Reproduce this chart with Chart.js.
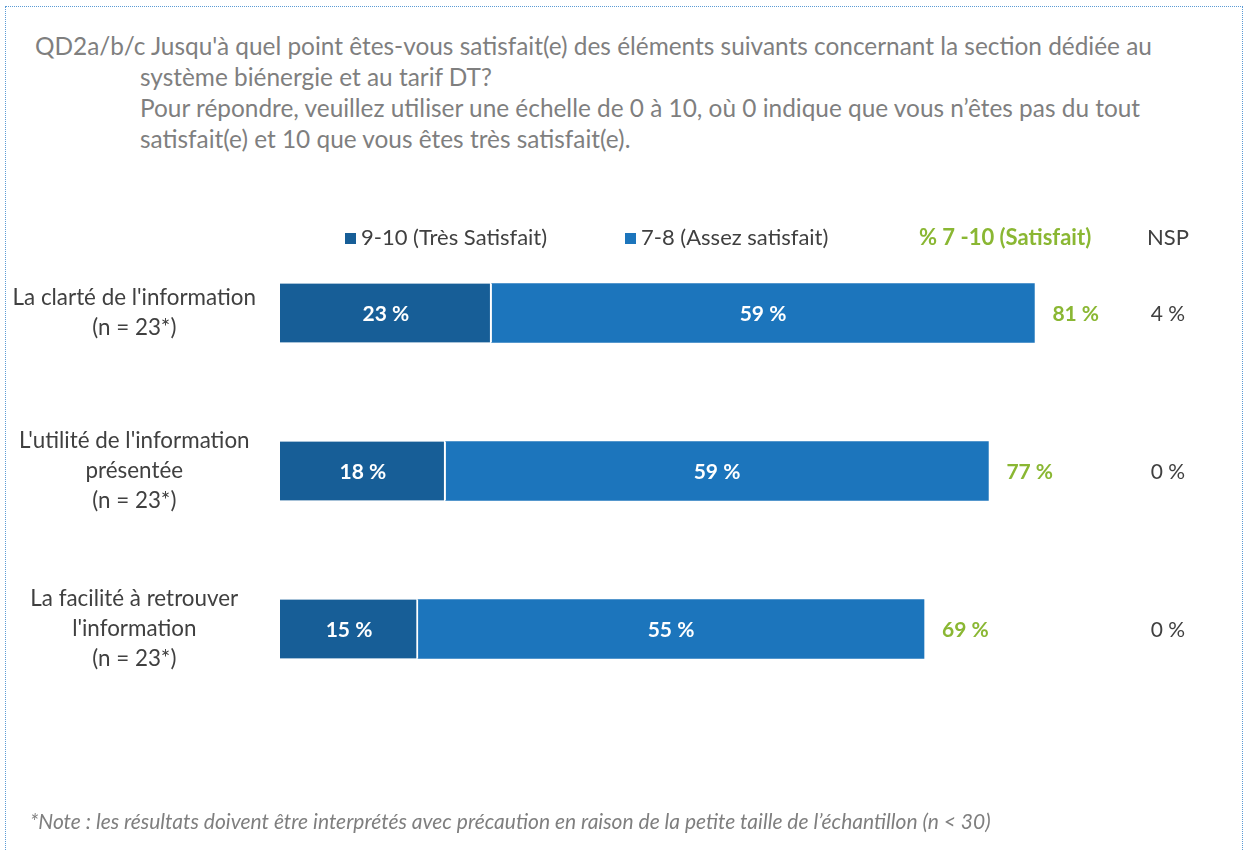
<!DOCTYPE html>
<html lang="fr">
<head>
<meta charset="utf-8">
<title>Satisfaction – section biénergie et tarif DT</title>
<script src="https://cdn.jsdelivr.net/npm/chart.js@4.4.1/dist/chart.umd.min.js"></script>
<style>
  html, body { margin: 0; padding: 0; background: #fff; }
  body { width: 1247px; height: 850px; position: relative; overflow: hidden; font-family: Lato, "Noto Sans", sans-serif; }
  #frame { position: absolute; left: 5px; top: 6px; width: 1238px; height: 860px; border: 1px dotted #5b9bd5; box-sizing: border-box; }
  #title { position: absolute; left: 35px; top: 30px; width: 1200px; color: #7f7f7f; font-size: 24.4px; line-height: 31px; white-space: nowrap; }
  #title .indent { padding-left: 105px; }
  #note { position: absolute; left: 30px; top: 808px; color: #7f7f7f; font-size: 21px; font-style: italic; white-space: nowrap; }
  #chart { position: absolute; left: 0; top: 0; }
</style>
</head>
<body>
<div id="frame"></div>
<div id="title">
  <div>QD2a/b/c Jusqu'à quel point êtes-vous satisfait(e) des éléments suivants concernant la section dédiée au</div>
  <div class="indent">système biénergie et au tarif DT?</div>
  <div class="indent">Pour répondre, veuillez utiliser une échelle de 0 à 10, où 0 indique que vous n’êtes pas du tout</div>
  <div class="indent">satisfait(e) et 10 que vous êtes très satisfait(e).</div>
</div>
<canvas id="chart" width="1247" height="850"></canvas>
<div id="note">*Note : les résultats doivent être interprétés avec précaution en raison de la petite taille de l’échantillon (n &lt; 30)</div>

<script>
// Items rated (each label split over several lines)
const items = [
  ["La clarté de l'information", "(n = 23*)"],
  ["L'utilité de l'information", "présentée", "(n = 23*)"],
  ["La facilité à retrouver", "l'information", "(n = 23*)"]
];
const tresSatisfait = [23, 18, 15];   // 9-10
const assezSatisfait = [59, 59, 55];  // 7-8
const totalSatisfait = [81, 77, 69];  // % 7-10
const nsp = [4, 0, 0];

const seriesNames = ["9-10 (Très Satisfait)", "7-8 (Assez satisfait)"];
const totalName = "% 7 -10 (Satisfait)";
const nspName = "NSP";

const DARK = "#175e97";
const LIGHT = "#1c75bc";
const GREEN = "#8ab733";
const TEXT = "#404040";
const FONT = "Lato, 'Noto Sans', sans-serif";

// Draws the column header row, in-bar values, totals and the NSP column
const annotations = {
  id: "annotations",
  afterDatasetsDraw(chart) {
    const ctx = chart.ctx;
    const y = chart.scales.y;
    ctx.save();

    // header row
    const hy = 238;
    ctx.font = "22px " + FONT;
    ctx.textBaseline = "middle";
    ctx.textAlign = "left";
    [[345, DARK, seriesNames[0]], [625, LIGHT, seriesNames[1]]].forEach(([lx, col, txt]) => {
      ctx.fillStyle = col;
      ctx.fillRect(lx, hy - 5, 11, 11);
      ctx.fillStyle = TEXT;
      ctx.fillText(txt, lx + 16, hy);
    });
    ctx.font = "bold 22px " + FONT;
    ctx.fillStyle = GREEN;
    ctx.fillText(totalName, 919, hy);
    ctx.font = "22px " + FONT;
    ctx.fillStyle = TEXT;
    ctx.textAlign = "center";
    ctx.fillText(nspName, 1168, hy);

    // values inside the bars
    ctx.font = "bold 21px " + FONT;
    ctx.fillStyle = "#ffffff";
    chart.data.datasets.forEach((ds, di) => {
      chart.getDatasetMeta(di).data.forEach((bar, i) => {
        const cx = (bar.base + bar.x) / 2;
        ctx.fillText(ds.data[i] + " %", cx, bar.y + 1);
      });
    });

    // totals and NSP
    const lastMeta = chart.getDatasetMeta(1);
    items.forEach((_, i) => {
      const bar = lastMeta.data[i];
      ctx.textAlign = "left";
      ctx.font = "bold 21px " + FONT;
      ctx.fillStyle = GREEN;
      ctx.fillText(totalSatisfait[i] + " %", bar.x + 18, bar.y + 1);
      ctx.textAlign = "center";
      ctx.font = "21px " + FONT;
      ctx.fillStyle = TEXT;
      ctx.fillText(nsp[i] + " %", 1168, y.getPixelForValue(i) + 1);
    });
    ctx.restore();
  }
};

new Chart(document.getElementById("chart"), {
  type: "bar",
  data: {
    labels: items,
    datasets: [
      {
        label: seriesNames[0],
        data: tresSatisfait,
        backgroundColor: DARK,
        borderColor: "#ffffff",
        borderWidth: { left: 0, top: 0, bottom: 0, right: 2 },
        borderSkipped: false,
        barThickness: 59
      },
      {
        label: seriesNames[1],
        data: assezSatisfait,
        backgroundColor: LIGHT,
        borderWidth: 0,
        barThickness: 59
      }
    ]
  },
  options: {
    indexAxis: "y",
    responsive: false,
    animation: false,
    layout: { padding: { left: 6, right: 47, top: 234, bottom: 142 } },
    plugins: {
      legend: { display: false },
      tooltip: { enabled: false }
    },
    scales: {
      x: {
        stacked: true,
        min: 0,
        max: 100,
        display: false
      },
      y: {
        stacked: true,
        grid: { display: false, drawTicks: false },
        border: { display: false },
        afterFit(scale) { scale.width = 274; },
        ticks: {
          crossAlign: "center",
          padding: 24,
          color: TEXT,
          font: { family: FONT, size: 22.4, lineHeight: 1.34 }
        }
      }
    }
  },
  plugins: [annotations]
});
</script>
</body>
</html>
